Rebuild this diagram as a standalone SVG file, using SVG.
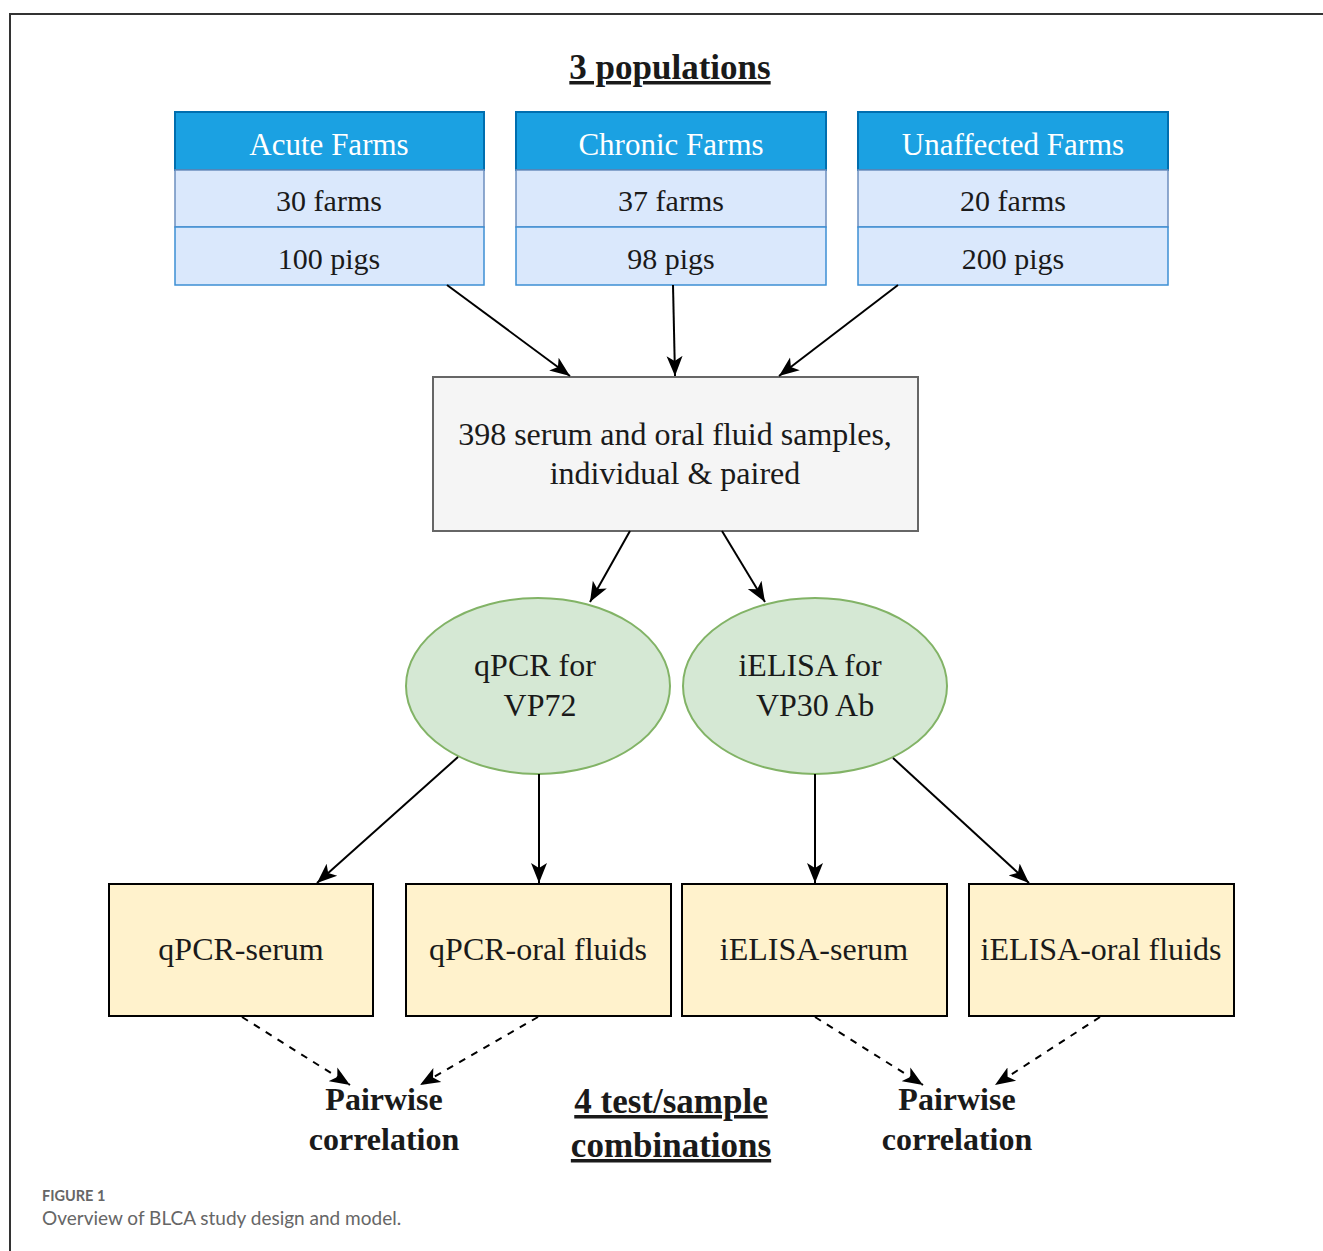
<svg xmlns="http://www.w3.org/2000/svg" width="1323" height="1251" viewBox="0 0 1323 1251">
<style>
.t{font-family:"Liberation Serif","DejaVu Serif",serif;fill:#1a1a1a;text-anchor:middle}
.hdr{fill:#ffffff;font-size:31px}
.row{font-size:30px}
.big{font-size:32px}
.b{font-weight:bold;font-size:32px}
.bb{font-weight:bold;font-size:35px}
.u{text-decoration:underline}
.head{fill:#1ba1e2;stroke:#006eaf;stroke-width:2}
.cell{fill:#dae8fc;stroke:#6c8ebf;stroke-width:1.5}
.cell2{fill:#dae8fc;stroke:#3d8fd4;stroke-width:1.5}
.ell{fill:#d5e8d4;stroke:#82b366;stroke-width:2}
.res{fill:#fff2cc;stroke:#000;stroke-width:2}
.c{stroke:#000;stroke-width:2;fill:none;marker-end:url(#ah)}
.d{stroke-dasharray:7 7}
.cap{font-family:"Lato","Open Sans",sans-serif;fill:#666}
</style>
<defs>
<marker id="ah" markerUnits="userSpaceOnUse" markerWidth="22" markerHeight="18" viewBox="0 0 22 18" refX="20" refY="9" orient="auto">
<path d="M0,1 L20,9 L0,17 L5,9 z" fill="#000"/>
</marker>
</defs>
<path d="M9,14 H1323 M10,14 V1251" stroke="#333" stroke-width="2" fill="none"/>
<text class="t bb u" x="670" y="79">3 populations</text>
<g id="acute">
<rect class="head" x="175" y="112" width="309" height="58"/>
<rect class="cell" x="175" y="170" width="309" height="57"/>
<rect class="cell2" x="175" y="227" width="309" height="58"/>
<text class="t hdr" x="329" y="155">Acute Farms</text>
<text class="t row" x="329" y="211">30 farms</text>
<text class="t row" x="329" y="269">100 pigs</text>
</g>
<g id="chronic">
<rect class="head" x="516" y="112" width="310" height="58"/>
<rect class="cell" x="516" y="170" width="310" height="57"/>
<rect class="cell2" x="516" y="227" width="310" height="58"/>
<text class="t hdr" x="671" y="155">Chronic Farms</text>
<text class="t row" x="671" y="211">37 farms</text>
<text class="t row" x="671" y="269">98 pigs</text>
</g>
<g id="unaffected">
<rect class="head" x="858" y="112" width="310" height="58"/>
<rect class="cell" x="858" y="170" width="310" height="57"/>
<rect class="cell2" x="858" y="227" width="310" height="58"/>
<text class="t hdr" x="1013" y="155">Unaffected Farms</text>
<text class="t row" x="1013" y="211">20 farms</text>
<text class="t row" x="1013" y="269">200 pigs</text>
</g>
<g id="samples">
<rect x="433" y="377" width="485" height="154" fill="#f5f5f5" stroke="#666" stroke-width="2"/>
<text class="t big" x="675" y="445" fill="#333">398 serum and oral fluid samples,</text>
<text class="t big" x="675" y="484">individual &amp; paired</text>
</g>
<g id="qpcr">
<ellipse class="ell" cx="538" cy="686" rx="132" ry="88"/>
<text class="t big" x="535" y="676">qPCR for</text>
<text class="t big" x="540" y="716">VP72</text>
</g>
<g id="ielisa">
<ellipse class="ell" cx="815" cy="686" rx="132" ry="88"/>
<text class="t big" x="810" y="676">iELISA for</text>
<text class="t big" x="815" y="716">VP30 Ab</text>
</g>
<g id="qpcr-serum">
<rect class="res" x="109" y="884" width="264" height="132"/>
<text class="t big" x="241" y="960">qPCR-serum</text>
</g>
<g id="qpcr-oral">
<rect class="res" x="406" y="884" width="265" height="132"/>
<text class="t big" x="538" y="960">qPCR-oral fluids</text>
</g>
<g id="ielisa-serum">
<rect class="res" x="682" y="884" width="265" height="132"/>
<text class="t big" x="814" y="960">iELISA-serum</text>
</g>
<g id="ielisa-oral">
<rect class="res" x="969" y="884" width="265" height="132"/>
<text class="t big" x="1101" y="960" font-size="31">iELISA-oral fluids</text>
</g>
<g id="pairwise-left">
<text class="t b" x="384" y="1110">Pairwise</text>
<text class="t b" x="384" y="1150">correlation</text>
</g>
<g id="pairwise-right">
<text class="t b" x="957" y="1110">Pairwise</text>
<text class="t b" x="957" y="1150">correlation</text>
</g>
<g id="combinations">
<text class="t bb u" x="671" y="1113">4 test/sample</text>
<text class="t bb u" x="671" y="1157">combinations</text>
</g>
<g id="connectors">
<line class="c" x1="447" y1="285" x2="570" y2="376"/>
<line class="c" x1="673" y1="285" x2="675" y2="376"/>
<line class="c" x1="898" y1="285" x2="779" y2="376"/>
<line class="c" x1="630" y1="531" x2="590" y2="602"/>
<line class="c" x1="722" y1="531" x2="765" y2="602"/>
<line class="c" x1="458" y1="757" x2="317" y2="883"/>
<line class="c" x1="539" y1="774" x2="539" y2="883"/>
<line class="c" x1="815" y1="774" x2="815" y2="883"/>
<line class="c" x1="893" y1="758" x2="1029" y2="883"/>
<line class="c d" x1="242" y1="1017" x2="350" y2="1085"/>
<line class="c d" x1="538" y1="1017" x2="420" y2="1085"/>
<line class="c d" x1="815" y1="1017" x2="923" y2="1085"/>
<line class="c d" x1="1100" y1="1017" x2="995" y2="1085"/>
</g>
<text class="cap" x="42" y="1201" font-size="14.5" font-weight="bold">FIGURE 1</text>
<text class="cap" x="42" y="1225" font-size="19">Overview of BLCA study design and model.</text>
</svg>
